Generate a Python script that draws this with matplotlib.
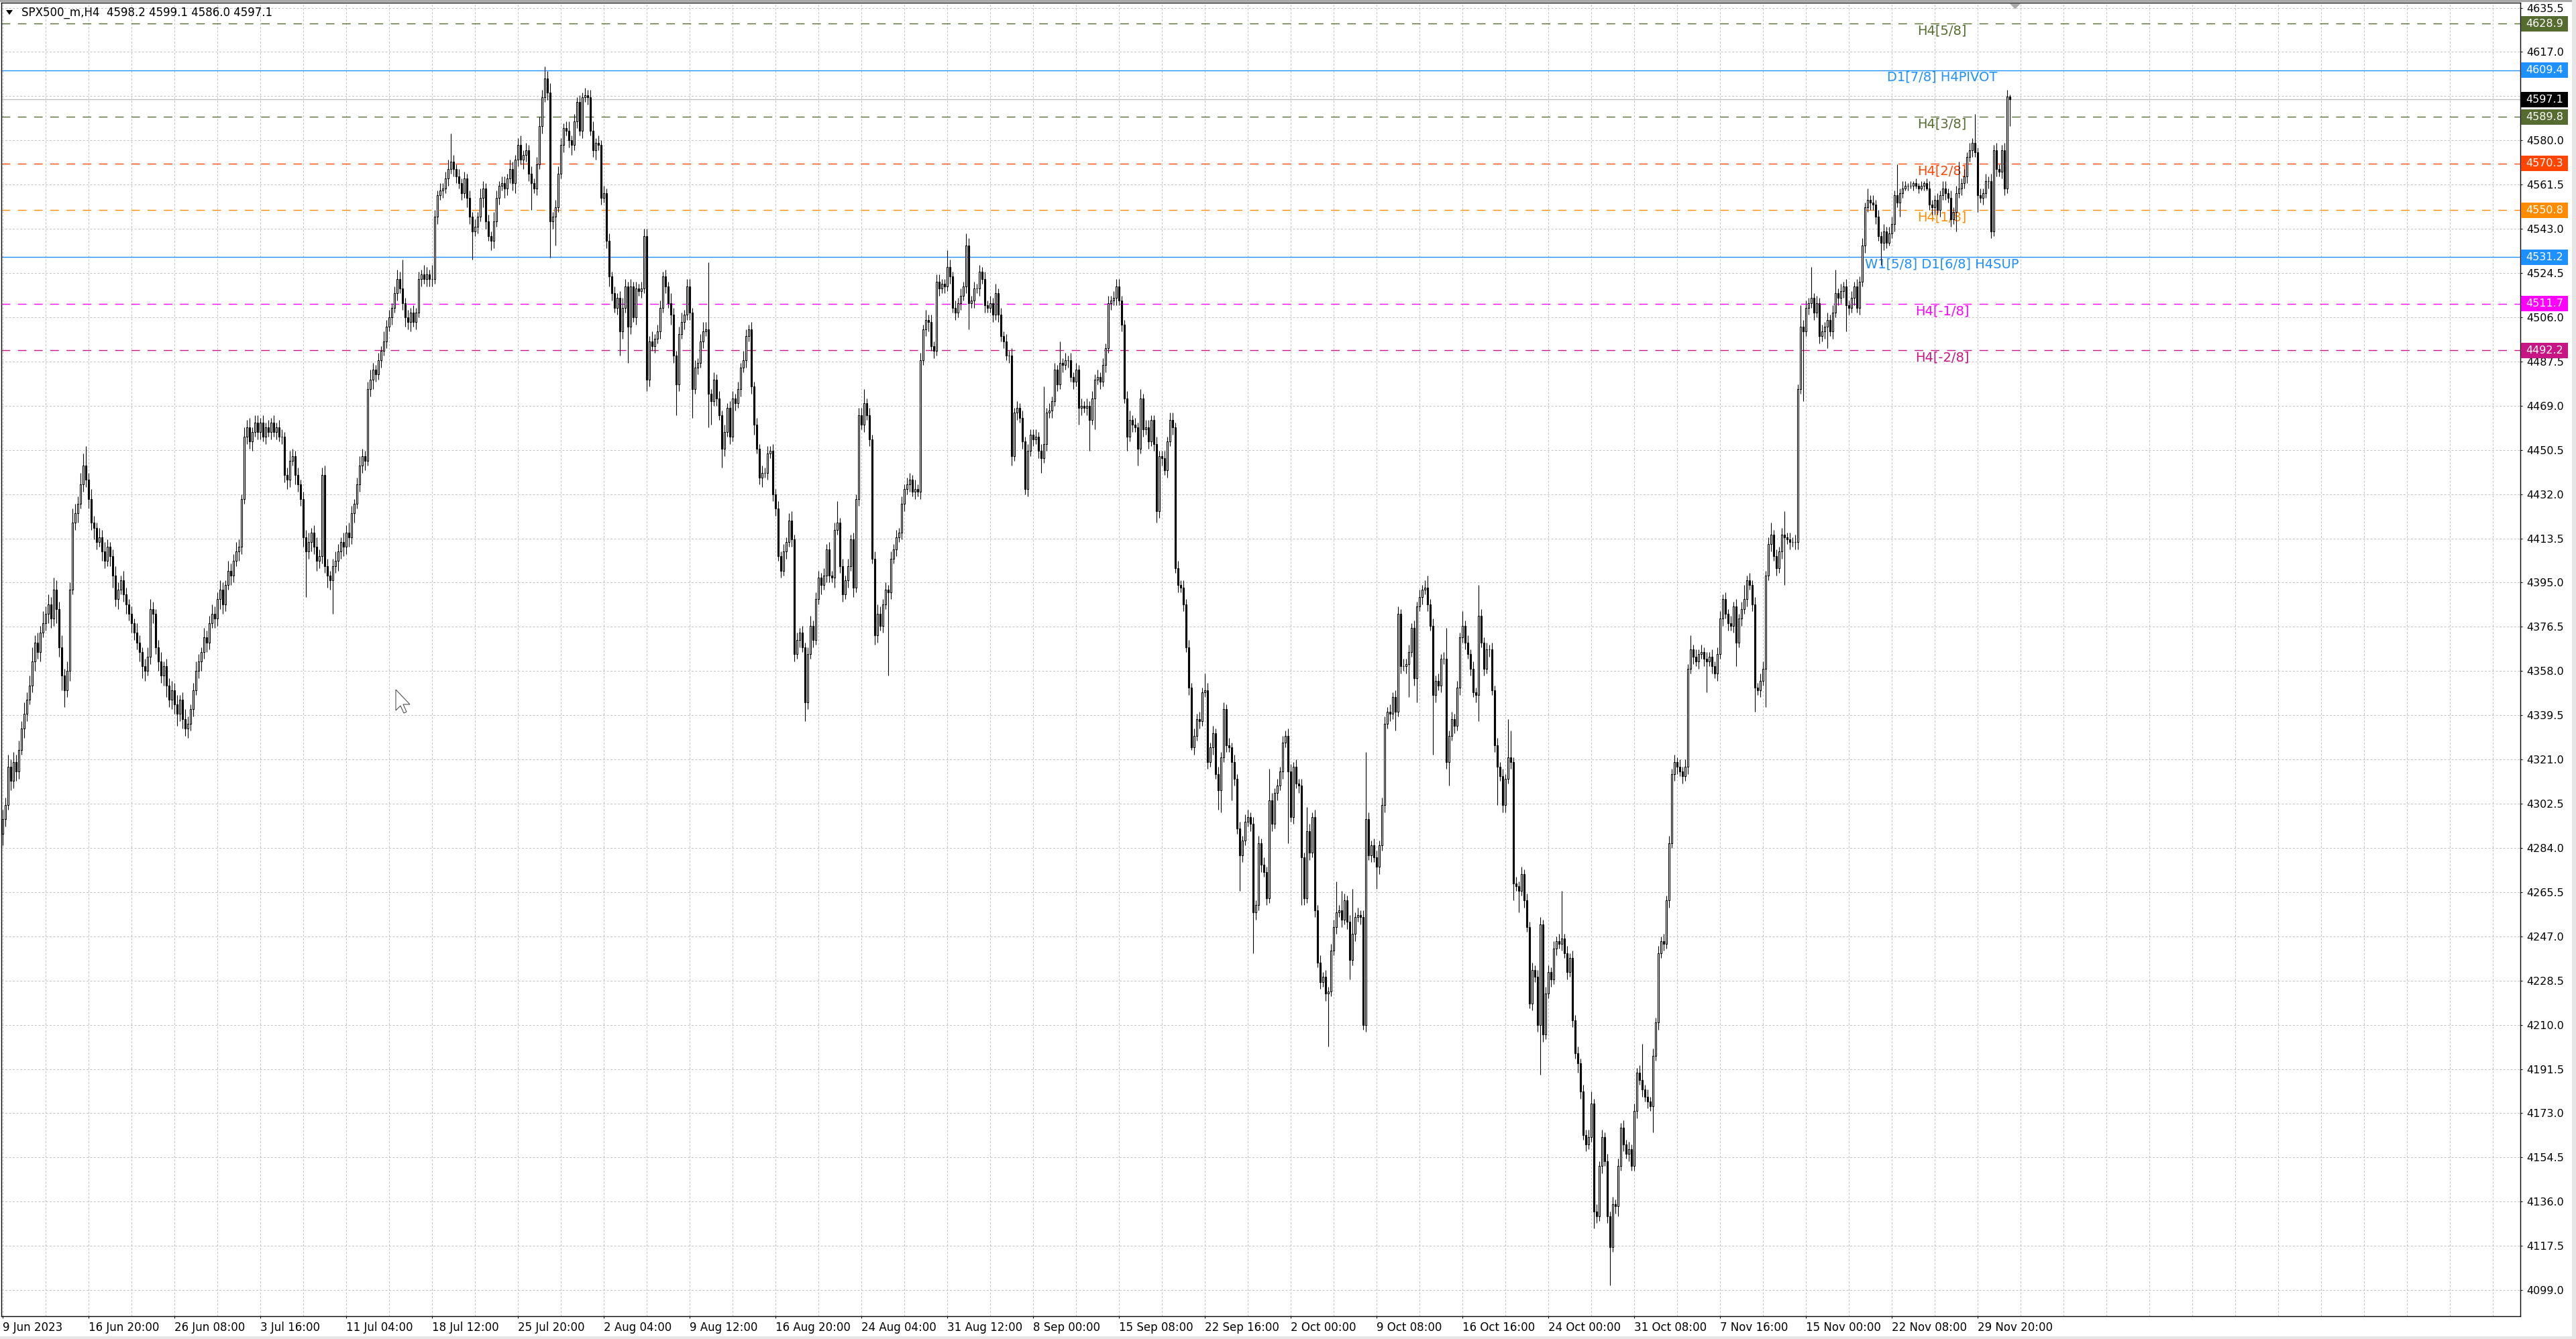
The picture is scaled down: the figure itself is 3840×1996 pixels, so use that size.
import numpy as np
import matplotlib
matplotlib.use("Agg")
import matplotlib.pyplot as plt
from matplotlib import transforms
from matplotlib.patches import Polygon, Rectangle

plt.rcParams['font.family'] = ['DejaVu Sans']

W, H = 3840, 1996

# SPX500_m H4 closes, 16 bars per row (one grid cell per row)
closes = [
    4296, 4302, 4318, 4312, 4320, 4316, 4325, 4334, 4340, 4346, 4352, 4362, 4370, 4366, 4374, 4378,
    4382, 4386, 4380, 4392, 4384, 4368, 4356, 4350, 4358, 4392, 4420, 4424, 4428, 4436, 4444, 4438,
    4430, 4420, 4418, 4412, 4414, 4408, 4404, 4410, 4406, 4398, 4388, 4392, 4396, 4390, 4386, 4382,
    4378, 4374, 4370, 4366, 4360, 4358, 4364, 4384, 4382, 4368, 4362, 4356, 4360, 4352, 4346, 4350,
    4344, 4340, 4346, 4338, 4334, 4336, 4342, 4350, 4358, 4362, 4366, 4372, 4370, 4378, 4382, 4380,
    4388, 4392, 4386, 4394, 4400, 4398, 4404, 4408, 4410, 4430, 4456, 4460, 4454, 4458, 4462, 4458,
    4462, 4456, 4460, 4458, 4462, 4458, 4460, 4456, 4456, 4440, 4438, 4446, 4448, 4440, 4436, 4430,
    4414, 4408, 4412, 4416, 4410, 4404, 4406, 4440, 4402, 4398, 4396, 4402, 4404, 4408, 4412, 4410,
    4416, 4414, 4424, 4428, 4436, 4444, 4448, 4446, 4476, 4480, 4484, 4482, 4488, 4492, 4496, 4502,
    4506, 4510, 4516, 4522, 4518, 4512, 4506, 4504, 4508, 4504, 4508, 4522, 4524, 4522, 4524, 4522,
    4522, 4548, 4557, 4559, 4560, 4564, 4568, 4571, 4568, 4565, 4562, 4558, 4564, 4556, 4548, 4542,
    4544, 4548, 4556, 4560, 4546, 4540, 4538, 4546, 4556, 4561, 4562, 4560, 4564, 4568, 4562, 4572,
    4578, 4572, 4574, 4576, 4566, 4562, 4560, 4570, 4586, 4598, 4606, 4600, 4546, 4548, 4552, 4566,
    4578, 4585, 4584, 4580, 4578, 4588, 4596, 4584, 4598, 4599, 4598, 4584, 4576, 4579, 4578, 4556,
    4558, 4538, 4523, 4516, 4510, 4514, 4500, 4510, 4519, 4502, 4519, 4506, 4518, 4517, 4518, 4540,
    4480, 4496, 4494, 4497, 4500, 4510, 4523, 4519, 4512, 4507, 4490, 4478, 4499, 4504, 4507, 4519,
    4508, 4476, 4485, 4487, 4496, 4500, 4501, 4474, 4471, 4480, 4472, 4465, 4451, 4458, 4468, 4456,
    4472, 4470, 4476, 4485, 4488, 4498, 4501, 4477, 4461, 4451, 4439, 4441, 4441, 4449, 4450, 4432,
    4426, 4406, 4400, 4408, 4412, 4421, 4413, 4365, 4371, 4374, 4368, 4345, 4365, 4377, 4371, 4388,
    4397, 4394, 4398, 4409, 4398, 4397, 4417, 4420, 4402, 4390, 4396, 4402, 4413, 4393, 4430, 4465,
    4461, 4470, 4465, 4455, 4405, 4373, 4382, 4377, 4386, 4392, 4391, 4405, 4409, 4414, 4416, 4428,
    4434, 4436, 4438, 4433, 4434, 4433, 4488, 4501, 4505, 4504, 4494, 4492, 4521, 4518, 4520, 4519,
    4527, 4523, 4510, 4508, 4512, 4515, 4519, 4536, 4512, 4513, 4518, 4518, 4525, 4522, 4511, 4510,
    4512, 4507, 4516, 4507, 4498, 4496, 4490, 4490, 4448, 4466, 4468, 4464, 4454, 4434, 4450, 4457,
    4455, 4456, 4450, 4447, 4453, 4466, 4467, 4471, 4484, 4478, 4487, 4486, 4488, 4488, 4481, 4479,
    4484, 4468, 4469, 4468, 4469, 4463, 4472, 4480, 4481, 4479, 4486, 4493, 4512, 4513, 4514, 4519,
    4513, 4503, 4472, 4456, 4463, 4461, 4460, 4451, 4472, 4459, 4460, 4454, 4463, 4453, 4425, 4448,
    4447, 4442, 4454, 4463, 4460, 4401, 4394, 4393, 4386, 4368, 4351, 4326, 4331, 4338, 4337, 4349,
    4350, 4320, 4326, 4332, 4315, 4308, 4322, 4342, 4327, 4326, 4320, 4313, 4292, 4281, 4287, 4295,
    4297, 4294, 4257, 4260, 4286, 4277, 4274, 4263, 4304, 4294, 4307, 4310, 4316, 4328, 4331, 4316,
    4297, 4318, 4311, 4310, 4280, 4263, 4291, 4282, 4297, 4258, 4236, 4228, 4230, 4223, 4224, 4241,
    4251, 4257, 4258, 4254, 4262, 4253, 4237, 4248, 4255, 4256, 4255, 4210, 4296, 4281, 4285, 4280,
    4276, 4285, 4302, 4336, 4341, 4340, 4347, 4341, 4382, 4360, 4360, 4361, 4366, 4376, 4355, 4385,
    4389, 4392, 4393, 4386, 4377, 4348, 4354, 4352, 4363, 4363, 4320, 4331, 4338, 4335, 4351, 4372,
    4377, 4370, 4365, 4359, 4349, 4348, 4381, 4370, 4359, 4367, 4367, 4350, 4327, 4318, 4314, 4302,
    4313, 4322, 4320, 4269, 4268, 4266, 4273, 4262, 4251, 4219, 4233, 4230, 4210, 4252, 4206, 4223,
    4232, 4229, 4242, 4245, 4244, 4246, 4240, 4232, 4238, 4212, 4198, 4194, 4182, 4164, 4160, 4163,
    4177, 4132, 4130, 4151, 4163, 4153, 4130, 4117, 4135, 4134, 4151, 4167, 4160, 4156, 4158, 4151,
    4174, 4190, 4187, 4183, 4180, 4178, 4176, 4197, 4211, 4240, 4245, 4244, 4262, 4286, 4315, 4320,
    4318, 4316, 4314, 4318, 4359, 4367, 4364, 4362, 4365, 4366, 4363, 4362, 4364, 4360, 4357, 4365,
    4380, 4388, 4382, 4378, 4377, 4385, 4370, 4380, 4384, 4388, 4396, 4394, 4386, 4351, 4350, 4354,
    4359, 4398, 4411, 4415, 4406, 4401, 4408, 4415, 4414, 4413, 4412, 4412, 4412, 4476, 4502, 4500,
    4510, 4512, 4514, 4508, 4512, 4498, 4500, 4502, 4505, 4500, 4508, 4516, 4514, 4517, 4519, 4511,
    4510, 4514, 4519, 4510, 4521, 4536, 4552, 4555, 4554, 4553, 4548, 4540, 4537, 4542, 4537, 4541,
    4545, 4557, 4554, 4558, 4560, 4561, 4561, 4561, 4562, 4561, 4560, 4561, 4562, 4560, 4553, 4552,
    4555, 4551, 4557, 4560, 4558, 4556, 4547, 4550, 4558, 4560, 4562, 4565, 4573, 4576, 4579, 4575,
    4557, 4556, 4558, 4563, 4563, 4542, 4576, 4568, 4567, 4576, 4560, 4598.2, 4597.1,
]
first_open = 4290.0

# wick lengths above / below the body, in index points
upper_wick = [
    4, 3, 5, 3, 4, 3, 4, 3, 5, 3, 4, 6, 3, 4, 3, 5,
    3, 4, 3, 5, 4, 3, 5, 3, 4, 3, 6, 4, 3, 5, 5, 8,
    3, 4, 3, 2, 4, 3, 4, 3, 2, 3, 4, 3, 2, 4, 3, 2,
    3, 2, 4, 3, 2, 3, 4, 4, 3, 2, 3, 4, 2, 3, 3, 4,
    3, 4, 2, 3, 4, 3, 2, 3, 4, 3, 2, 4, 3, 3, 4, 3,
    3, 4, 3, 2, 4, 3, 3, 4, 3, 2, 4, 3, 4, 2, 3, 3,
    2, 3, 2, 3, 2, 3, 2, 3, 3, 2, 3, 4, 3, 2, 3, 2,
    3, 3, 4, 2, 3, 4, 3, 3, 4, 3, 2, 3, 4, 3, 2, 4,
    3, 4, 3, 2, 3, 4, 3, 2, 3, 4, 3, 2, 3, 2, 4, 3,
    3, 2, 3, 4, 3, 12, 2, 3, 2, 3, 2, 3, 2, 4, 3, 2,
    6, 3, 2, 3, 2, 3, 4, 12, 3, 2, 3, 2, 3, 2, 3, 2,
    3, 2, 4, 3, 2, 3, 2, 4, 3, 2, 3, 3, 2, 4, 3, 2,
    3, 4, 2, 3, 2, 3, 2, 3, 4, 3, 5, 3, 4, 2, 3, 3,
    3, 2, 3, 4, 2, 3, 2, 3, 2, 3, 2, 3, 4, 2, 3, 2,
    3, 2, 3, 2, 3, 2, 3, 4, 3, 2, 3, 2, 3, 2, 3, 3,
    3, 2, 4, 2, 3, 3, 2, 3, 2, 4, 3, 2, 3, 4, 2, 3,
    3, 2, 3, 2, 3, 4, 3, 28, 2, 3, 2, 3, 2, 3, 2, 3,
    3, 2, 3, 2, 4, 3, 2, 3, 2, 3, 2, 3, 2, 3, 2, 3,
    2, 3, 2, 3, 2, 3, 4, 2, 3, 2, 3, 2, 3, 4, 2, 3,
    3, 2, 3, 2, 3, 2, 3, 9, 2, 3, 2, 3, 2, 3, 2, 3,
    3, 6, 2, 3, 2, 3, 4, 3, 2, 3, 2, 3, 2, 3, 2, 3,
    2, 3, 3, 2, 4, 2, 3, 2, 4, 2, 3, 2, 3, 3, 2, 2,
    7, 3, 2, 3, 2, 3, 2, 5, 3, 2, 3, 2, 3, 2, 3, 2,
    3, 2, 4, 2, 3, 2, 3, 2, 3, 2, 3, 2, 3, 2, 3, 2,
    2, 3, 2, 3, 24, 2, 3, 2, 3, 2, 9, 2, 3, 2, 3, 2,
    3, 2, 3, 2, 3, 2, 3, 2, 3, 2, 3, 2, 3, 2, 3, 3,
    3, 2, 2, 3, 4, 2, 3, 2, 4, 2, 3, 3, 2, 2, 3, 2,
    2, 3, 2, 3, 3, 2, 3, 2, 3, 2, 3, 2, 3, 2, 3, 2,
    7, 3, 2, 3, 2, 3, 2, 3, 2, 3, 2, 3, 2, 3, 2, 3,
    3, 2, 3, 2, 3, 2, 3, 2, 13, 3, 2, 3, 2, 3, 2, 3,
    3, 2, 3, 2, 3, 2, 10, 3, 2, 3, 2, 3, 2, 3, 2, 3,
    3, 13, 2, 8, 3, 2, 3, 19, 2, 3, 2, 3, 28, 3, 2, 3,
    3, 2, 3, 3, 2, 3, 2, 3, 3, 2, 3, 2, 3, 2, 3, 2,
    3, 2, 3, 5, 2, 3, 2, 3, 2, 3, 13, 2, 3, 2, 3, 2,
    6, 2, 3, 2, 3, 2, 13, 3, 2, 3, 2, 3, 2, 3, 2, 3,
    2, 16, 11, 2, 3, 2, 3, 2, 3, 2, 3, 2, 3, 3, 2, 3,
    3, 2, 3, 2, 3, 20, 2, 3, 2, 3, 2, 3, 2, 3, 2, 3,
    5, 2, 3, 2, 3, 2, 3, 2, 3, 2, 3, 2, 3, 2, 3, 2,
    3, 2, 3, 15, 2, 3, 2, 3, 2, 3, 2, 3, 2, 3, 2, 3,
    2, 3, 2, 3, 2, 6, 2, 3, 2, 3, 2, 3, 2, 3, 2, 3,
    3, 2, 3, 2, 3, 2, 3, 2, 3, 6, 2, 3, 2, 3, 2, 3,
    3, 2, 3, 5, 2, 3, 2, 3, 10, 2, 3, 2, 3, 2, 9, 3,
    3, 2, 13, 2, 3, 2, 3, 2, 3, 2, 3, 10, 2, 3, 2, 3,
    2, 3, 2, 3, 2, 3, 2, 5, 2, 3, 2, 3, 2, 3, 2, 3,
    3, 2, 13, 2, 3, 2, 1, 2, 1, 2, 1, 2, 1, 2, 3, 2,
    2, 3, 2, 3, 3, 2, 3, 2, 3, 11, 2, 3, 2, 3, 2, 12,
    2, 3, 2, 3, 2, 3, 2, 3, 2, 2, 3, 2.8, 0.9,
]
lower_wick = [
    5, 3, 2, 4, 3, 4, 3, 2, 4, 3, 2, 3, 4, 3, 4, 2,
    3, 4, 4, 3, 6, 4, 6, 7, 3, 4, 2, 3, 4, 2, 3, 3,
    4, 3, 5, 3, 2, 4, 3, 2, 4, 5, 3, 4, 2, 3, 4, 3,
    4, 3, 3, 4, 5, 4, 2, 3, 4, 3, 4, 3, 4, 5, 3, 4,
    4, 5, 3, 4, 3, 4, 3, 3, 2, 3, 4, 3, 4, 3, 2, 4,
    3, 4, 4, 3, 2, 4, 3, 2, 4, 3, 2, 3, 3, 4, 2, 3,
    3, 2, 3, 2, 3, 2, 3, 2, 3, 3, 4, 3, 2, 4, 3, 3,
    4, 19, 3, 4, 3, 4, 3, 3, 3, 5, 4, 14, 3, 4, 3, 4,
    3, 4, 3, 4, 2, 3, 3, 4, 2, 3, 4, 3, 2, 3, 2, 3,
    2, 3, 2, 3, 2, 3, 4, 3, 4, 2, 3, 2, 3, 2, 3, 3,
    3, 2, 3, 2, 3, 2, 3, 2, 3, 3, 2, 3, 2, 4, 3, 12,
    2, 3, 2, 4, 3, 2, 4, 3, 2, 3, 2, 4, 3, 2, 3, 4,
    3, 2, 4, 3, 3, 11, 2, 3, 2, 3, 2, 3, 15, 3, 12, 2,
    2, 3, 2, 3, 4, 2, 3, 2, 3, 2, 3, 2, 3, 4, 2, 3,
    2, 3, 4, 3, 2, 3, 10, 3, 2, 15, 3, 2, 3, 2, 3, 2,
    5, 3, 2, 3, 2, 3, 2, 3, 2, 4, 3, 13, 3, 2, 3, 2,
    3, 12, 2, 3, 2, 3, 2, 14, 10, 2, 3, 2, 8, 3, 2, 3,
    2, 3, 2, 3, 2, 3, 2, 3, 4, 2, 3, 4, 2, 3, 2, 3,
    3, 2, 3, 2, 3, 2, 3, 3, 2, 3, 2, 8, 3, 2, 3, 2,
    2, 4, 2, 3, 3, 2, 4, 2, 3, 3, 2, 3, 2, 4, 2, 3,
    2, 3, 2, 3, 2, 4, 3, 2, 3, 2, 35, 3, 2, 3, 2, 3,
    3, 2, 3, 2, 3, 2, 3, 2, 3, 4, 2, 3, 2, 3, 2, 3,
    2, 3, 2, 3, 2, 3, 2, 3, 11, 2, 3, 2, 3, 2, 3, 2,
    2, 3, 2, 3, 2, 3, 2, 3, 4, 2, 3, 2, 3, 2, 3, 2,
    3, 2, 3, 6, 2, 3, 2, 3, 2, 3, 2, 3, 2, 3, 2, 3,
    2, 7, 3, 2, 3, 13, 2, 13, 2, 3, 2, 3, 2, 3, 2, 3,
    2, 3, 2, 6, 2, 3, 2, 7, 2, 3, 2, 3, 2, 3, 5, 3,
    3, 2, 3, 2, 3, 2, 3, 2, 3, 2, 3, 1, 3, 2, 3, 2,
    2, 3, 2, 3, 2, 8, 9, 2, 3, 2, 16, 3, 2, 15, 3, 2,
    2, 3, 17, 3, 2, 3, 2, 3, 2, 3, 2, 3, 2, 3, 2, 30,
    2, 3, 2, 3, 20, 3, 2, 3, 2, 3, 2, 3, 2, 3, 22, 2,
    2, 3, 2, 3, 2, 3, 8, 2, 3, 2, 3, 2, 3, 2, 3, 2,
    9, 3, 2, 3, 2, 3, 2, 8, 2, 3, 2, 3, 14, 2, 3, 10,
    2, 3, 2, 3, 2, 25, 3, 2, 3, 2, 3, 10, 2, 3, 2, 3,
    2, 3, 2, 3, 2, 3, 11, 2, 3, 2, 3, 2, 3, 16, 2, 3,
    3, 2, 3, 7, 2, 9, 2, 3, 2, 2, 3, 2, 3, 21, 3, 2,
    2, 3, 2, 3, 2, 3, 2, 3, 2, 3, 2, 4, 3, 2, 3, 2,
    2, 7, 3, 2, 3, 2, 3, 16, 2, 3, 4, 2, 3, 2, 3, 2,
    2, 3, 2, 3, 2, 3, 2, 11, 2, 3, 2, 3, 2, 3, 2, 3,
    3, 2, 3, 2, 3, 2, 3, 2, 3, 2, 3, 13, 2, 3, 2, 3,
    2, 3, 2, 3, 2, 3, 10, 2, 3, 2, 3, 2, 3, 10, 2, 3,
    2, 16, 2, 3, 2, 3, 2, 3, 20, 2, 3, 2, 3, 3, 2, 29,
    2, 3, 2, 3, 2, 3, 2, 3, 9, 2, 3, 2, 3, 2, 3, 11,
    3, 2, 3, 2, 3, 2, 3, 2, 3, 2, 3, 2, 9, 3, 2, 1,
    2, 3, 2, 6, 2, 1, 2, 1, 2, 1, 2, 1, 2, 1, 2, 3,
    3, 2, 3, 2, 3, 2, 3, 2, 8, 2, 3, 2, 3, 2, 3, 2,
    7, 2, 3, 2, 3, 3, 2, 3, 2, 3, 3, 2, 11.1,
]

date_labels = [
    "9 Jun 2023", "16 Jun 20:00", "26 Jun 08:00", "3 Jul 16:00", "11 Jul 04:00",
    "18 Jul 12:00", "25 Jul 20:00", "2 Aug 04:00", "9 Aug 12:00", "16 Aug 20:00",
    "24 Aug 04:00", "31 Aug 12:00", "8 Sep 00:00", "15 Sep 08:00", "22 Sep 16:00",
    "2 Oct 00:00", "9 Oct 08:00", "16 Oct 16:00", "24 Oct 00:00", "31 Oct 08:00",
    "7 Nov 16:00", "15 Nov 00:00", "22 Nov 08:00", "29 Nov 20:00",
]
bars_per_label = 32

price_ticks = [
    4099.0, 4117.5, 4136.0, 4154.5, 4173.0, 4191.5, 4210.0, 4228.5, 4247.0, 4265.5,
    4284.0, 4302.5, 4321.0, 4339.5, 4358.0, 4376.5, 4395.0, 4413.5, 4432.0, 4450.5,
    4469.0, 4487.5, 4506.0, 4524.5, 4543.0, 4561.5, 4580.0, 4598.5, 4617.0, 4635.5,
]

level_prices = [4628.9, 4609.4, 4589.8, 4570.3, 4550.8, 4531.2, 4511.7, 4492.2]
level_names = ["H4[5/8]", "D1[7/8] H4PIVOT", "H4[3/8]", "H4[2/8]", "H4[1/8]",
               "W1[5/8] D1[6/8] H4SUP", "H4[-1/8]", "H4[-2/8]"]

# styling
level_colors = ["#556B2F", "#1E90FF", "#556B2F", "#FF4500", "#FF8C00",
                "#1E90FF", "#FF00FF", "#C71585"]
level_dashed = [True, False, True, True, True, False, True, True]

assert len(closes) == len(upper_wick) == len(lower_wick)

c = np.array(closes, dtype=float)
o = np.concatenate([[first_open], c[:-1]])
hi = np.maximum(o, c) + np.array(upper_wick, dtype=float)
lo = np.minimum(o, c) - np.array(lower_wick, dtype=float)
x = np.arange(len(c))
last = c[-1]

# pixel geometry of the MT4 window
ax_left, ax_right, ax_top, ax_bottom = 2, 3757, 3.5, 1962
xmin, xmax = -0.5, 938.25
ymin, ymax = 4088.1, 4637.75

fig = plt.figure(figsize=(W / 100, H / 100), dpi=100)
fig.patch.set_facecolor("white")
ax = fig.add_axes([ax_left / W, 1 - ax_bottom / H,
                   (ax_right - ax_left) / W, (ax_bottom - ax_top) / H])
ax.set_facecolor("white")

# grid
grid_style = dict(color="#C4C4C4", lw=0.72, ls=(0, (3, 2.5)), zorder=1)
for gx in range(0, int(xmax) + 1, bars_per_label // 2):
    ax.axvline(gx, **grid_style)
for gy in price_ticks:
    ax.axhline(gy, **grid_style)

# indicator levels and their names
for price, name, col, dashed in zip(level_prices, level_names, level_colors, level_dashed):
    ls = (0, (9.2, 8.2)) if dashed else "-"
    ax.axhline(price, color=col, lw=1.0, ls=ls, zorder=1.5)
    ax.annotate(name, xy=(722.75, price), xytext=(0, -1), textcoords="offset points",
                ha="center", va="top", fontsize=14, color=col, zorder=2)
ax.axhline(last, color="#C0C0C0", lw=1.0, zorder=1.6)

# candles
bull = c >= o
ax.vlines(x, lo, hi, color="black", lw=0.8, zorder=3)
ax.bar(x[bull], (c - o)[bull], bottom=o[bull], width=0.55, color="white",
       edgecolor="black", linewidth=0.8, zorder=4)
ax.bar(x[~bull], (o - c)[~bull], bottom=c[~bull], width=0.55, color="black",
       edgecolor="black", linewidth=0.8, zorder=4)

ax.set_xlim(xmin, xmax)
ax.set_ylim(ymin, ymax)

for sp in ax.spines.values():
    sp.set_color("black")
    sp.set_linewidth(1.0)

ax.yaxis.tick_right()
ax.set_yticks(price_ticks)
ax.set_yticklabels([f"{p:.1f}" for p in price_ticks], fontsize=11.5)
ax.tick_params(axis="y", direction="out", length=2.5, width=0.75, pad=4.5)
ax.set_xticks([k * bars_per_label for k in range(len(date_labels))])
ax.set_xticklabels(date_labels, ha="left", fontsize=12)
ax.tick_params(axis="x", direction="out", length=2.5, width=0.75, pad=3)

# price boxes on the right scale
blend = transforms.blended_transform_factory(fig.transFigure, ax.transData)
ppu = (ax_bottom - ax_top) / (ymax - ymin)
box_h = 23 / ppu
box_prices = level_prices + [last]
box_colors = level_colors + ["black"]
for price, col in zip(box_prices, box_colors):
    fig.add_artist(Rectangle((3758 / W, price - box_h / 2), 70 / W, box_h,
                             transform=blend, facecolor=col, edgecolor="none", zorder=5))
    fig.text(3765 / W, price, f"{price:.1f}", transform=blend, color="white",
             fontsize=11.5, ha="left", va="center", zorder=6)

# header
def px(xp, yp):
    return (xp / W, 1 - yp / H)

fig.text(32 / W, 1 - 19 / H,
         f"SPX500_m,H4  {o[-1]:.1f} {hi[-1]:.1f} {lo[-1]:.1f} {c[-1]:.1f}",
         fontsize=12, ha="left", va="center", color="black")
fig.add_artist(Polygon([px(9, 15), px(19, 15), px(14, 22)], closed=True,
                       transform=fig.transFigure, facecolor="black", edgecolor="none"))

# chart shift marker at the top
shift = transforms.blended_transform_factory(ax.transData, fig.transFigure)
sx = len(c) + 1
fig.add_artist(Polygon([(sx - 2.1, 1 - 5 / H), (sx + 2.1, 1 - 5 / H), (sx, 1 - 13.5 / H)],
                       closed=True, transform=shift, facecolor="#A8A8A8",
                       edgecolor="none", zorder=6))

# mouse pointer left on the chart
cur = [(0, 0), (0, 31), (7, 24), (12, 35), (16, 33), (11, 22), (21, 22)]
fig.add_artist(Polygon([px(590 + a, 1028 + b) for a, b in cur], closed=True,
                       transform=fig.transFigure, facecolor="white",
                       edgecolor="#505050", lw=0.8, zorder=7))

# window frame
fig.add_artist(Rectangle((0, 1 - 3 / H), 1, 3 / H, transform=fig.transFigure,
                         facecolor="#A8A8A8", edgecolor="none", zorder=8))
fig.add_artist(Rectangle((0, 0), 1, 4 / H, transform=fig.transFigure,
                         facecolor="#E6E6E6", edgecolor="none", zorder=8))
fig.add_artist(Rectangle((3834 / W, 0), 6 / W, 1, transform=fig.transFigure,
                         facecolor="#E6E6E6", edgecolor="none", zorder=8))

fig.savefig("out.png", dpi=100)
